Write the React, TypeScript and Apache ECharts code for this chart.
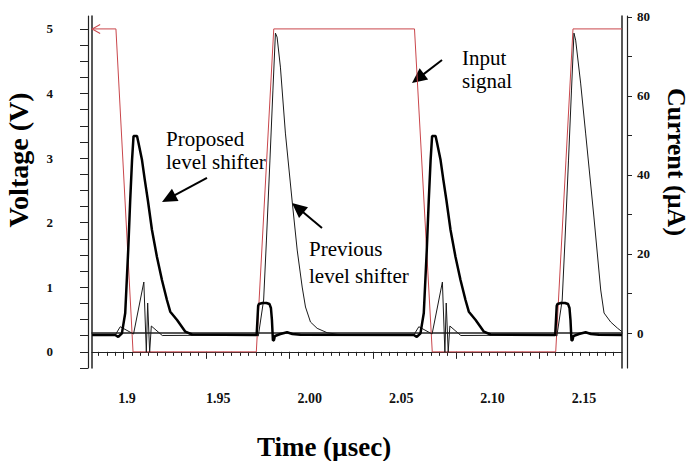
import React, { useEffect, useRef } from 'react';
import * as echarts from 'echarts';

// Input signal (V, left axis)
const inputTime = [1.8811, 1.8954, 1.9057, 1.9799, 1.9904, 2.0751, 2.0858, 2.1601, 2.1705, 2.2];
const inputVolt = [5, 5, 0, 0, 5, 5, 0, 0, 5, 5];

// Proposed level shifter current (µA, right axis) – thick line
const proposedTime = [
  1.8811, 1.895, 1.8968, 1.899, 1.901, 1.9028, 1.904, 1.9051, 1.906, 1.9081, 1.909, 1.9111,
  1.9128, 1.9146, 1.9171, 1.9201, 1.9231, 1.9261, 1.9281, 1.9322, 1.9372, 1.9412, 1.9801,
  1.981, 1.9814, 1.9836, 1.986, 1.9878, 1.9887, 1.9893, 1.9899, 1.9905, 1.9911, 1.9944,
  1.9984, 2.0016, 2.0064, 2.0747, 2.0765, 2.0787, 2.0807, 2.0825, 2.0837, 2.0848, 2.0857,
  2.0878, 2.0887, 2.0908, 2.0925, 2.0943, 2.0968, 2.0998, 2.1028, 2.1058, 2.1078, 2.1119,
  2.1169, 2.1209, 2.1598, 2.1607, 2.1611, 2.1633, 2.1657, 2.1675, 2.1684, 2.169, 2.1696,
  2.1702, 2.1708, 2.1741, 2.1781, 2.1813, 2.1861, 2.2,
];
const proposedCurrent = [
  -0.5, -0.5, -1.0, -0.08, 5.06, 20.99, 33.64, 43.75, 49.82, 49.82, 48.05, 43.75,
  38.69, 33.64, 26.05, 19.22, 13.4, 8.35, 5.39, 3.29, 0.33, -0.38, -0.5,
  6.83, 7.33, 7.59, 7.59, 7.33, 6.32, 3.29, -1.9, -1.8, -0.76, -0.25,
  0.18, -0.25, -0.45, -0.5, -1.0, -0.08, 5.06, 20.99, 33.64, 43.75, 49.82,
  49.82, 48.05, 43.75, 38.69, 33.64, 26.05, 19.22, 13.4, 8.35, 5.39, 3.29,
  0.33, -0.38, -0.5, 6.83, 7.33, 7.59, 7.59, 7.33, 6.32, 3.29, -1.9,
  -1.8, -0.76, -0.25, 0.18, -0.25, -0.45, -0.5,
];

// Previous level shifter current (µA, right axis) – thin line
const previousTime = [
  1.8811, 1.895, 1.898, 1.906, 1.9122, 1.9137, 1.9145, 1.9157, 1.9167, 1.9233, 1.9799,
  1.9811, 1.9843, 1.986, 1.9881, 1.9899, 1.9914, 1.9924, 1.9944, 1.9974, 2.0014, 2.0045,
  2.0075, 2.0095, 2.0125, 2.0165, 2.0225, 2.0286, 2.0366, 2.0747, 2.0777, 2.0857, 2.0919,
  2.0934, 2.0942, 2.0954, 2.0964, 2.103, 2.1596, 2.1608, 2.164, 2.1657, 2.1678, 2.1696,
  2.1711, 2.1721, 2.1751, 2.1781, 2.1831, 2.1872, 2.1892, 2.1932, 2.1972, 2.2,
];
const previousCurrent = [
  -0.5, -0.5, 1.59, -0.25, 12.9, -4.81, 7.59, -4.81, 1.77, -0.63, -0.5,
  -0.76, 8.35, 23.52, 43.75, 61.46, 75.87, 74.86, 67.27, 50.58, 33.64, 20.99,
  11.63, 6.58, 2.78, 1.19, 0.08, -0.33, -0.5, -0.5, 1.59, -0.25, 12.9,
  -4.81, 7.59, -4.81, 1.77, -0.63, -0.5, -0.76, 8.35, 23.52, 43.75, 61.46,
  75.87, 74.1, 63.23, 50.58, 29.34, 10.88, 5.06, 2.78, 1.26, 0.33,
];

// Tick labels
const xLabelValues = [1.9, 1.95, 2.0, 2.05, 2.1, 2.15];
const xLabelTexts = ['1.9', '1.95', '2.00', '2.05', '2.10', '2.15'];
const voltLabelValues = [0, 1, 2, 3, 4, 5];
const currentTickValues = [0, 10, 20, 30, 40, 50, 60, 70, 80];
const currentLabelValues = [0, 20, 40, 60, 80];

const RED = '#c9464b';
const AXIS = '#222';
const SERIF = '"Liberation Serif", "Times New Roman", serif';

function range(start: number, end: number, step: number, digits: number) {
  const out: number[] = [];
  const n = Math.round((end - start) / step);
  for (let i = 0; i <= n; i++) out.push(+(start + i * step).toFixed(digits));
  return out;
}

function arrow(tipX: number, tipY: number, tailX: number, tailY: number) {
  const dx = tipX - tailX;
  const dy = tipY - tailY;
  const len = Math.sqrt(dx * dx + dy * dy);
  const rot = Math.atan2(-dy, dx);
  const L = 15;
  const W = 7;
  return {
    type: 'group',
    x: tipX,
    y: tipY,
    rotation: rot,
    children: [
      { type: 'line', shape: { x1: -len, y1: 0, x2: -L + 2, y2: 0 }, style: { stroke: '#000', lineWidth: 2 } },
      { type: 'polygon', shape: { points: [[0, 0], [-L, -W], [-L, W]] }, style: { fill: '#000' } },
    ],
  };
}

export default function App() {
  const ref = useRef<HTMLDivElement>(null);
  useEffect(() => {
    document.body.style.margin = '0';
    const chart = echarts.init(ref.current!, null, { renderer: 'svg' });
    const xMin = 1.881;
    const xMax = 2.2;
    const tickLabel = { fontFamily: SERIF, fontWeight: 'bold', fontSize: 13, color: '#111' };

    const option: any = {
      animation: false,
      grid: { left: 92, right: 69, top: 16, bottom: 93, containLabel: false },
      xAxis: [
        {
          type: 'value', position: 'bottom', offset: 5, min: xMin, max: xMax,
          axisLine: { show: true, lineStyle: { color: AXIS, width: 1.2 } },
          axisTick: { show: true, length: 4, customValues: range(1.885, 2.195, 0.005, 3), lineStyle: { color: AXIS } },
          axisLabel: { show: false }, splitLine: { show: false },
        },
        {
          type: 'value', position: 'bottom', offset: 5, min: 1.8809, max: 2.1708,
          axisLine: { show: false }, axisTick: { show: false }, splitLine: { show: false },
          axisLabel: {
            show: true, margin: 18, customValues: xLabelValues, ...tickLabel, fontSize: 14,
            formatter: (v: number) => {
              const i = xLabelValues.findIndex((t) => Math.abs(t - v) < 1e-6);
              return i >= 0 ? xLabelTexts[i] : '';
            },
          },
        },
        {
          type: 'value', position: 'bottom', offset: 5, min: xMin, max: xMax,
          axisLine: { show: false },
          axisTick: { show: true, length: 7, customValues: xLabelValues, lineStyle: { color: AXIS } },
          axisLabel: { show: false }, splitLine: { show: false },
        },
        {
          type: 'value', position: 'bottom', offset: 0, min: xMin, max: xMax,
          axisLine: { show: true, lineStyle: { color: AXIS, width: 1.5 } },
          axisTick: { show: false }, axisLabel: { show: false }, splitLine: { show: false },
        },
      ],
      yAxis: [
        {
          type: 'value', position: 'left', offset: 4, min: -0.25, max: 5.2,
          axisLine: { show: true, lineStyle: { color: AXIS, width: 1.2 } },
          axisTick: { show: true, length: 8, customValues: range(-0.25, 5, 0.25, 2), lineStyle: { color: AXIS } },
          axisLabel: { show: true, margin: 35, customValues: voltLabelValues, ...tickLabel },
          splitLine: { show: false },
        },
        {
          type: 'value', position: 'right', offset: 5, min: -8.85, max: 80.2,
          axisLine: { show: true, lineStyle: { color: AXIS, width: 1.2 } },
          axisTick: { show: true, length: 5, customValues: currentTickValues, lineStyle: { color: AXIS } },
          axisLabel: { show: true, margin: 10, customValues: currentLabelValues, ...tickLabel },
          splitLine: { show: false },
        },
        {
          type: 'value', position: 'left', offset: 0, min: -0.25, max: 5.2,
          axisLine: { show: true, lineStyle: { color: AXIS, width: 1.5 } },
          axisTick: { show: false }, axisLabel: { show: false }, splitLine: { show: false },
        },
        {
          type: 'value', position: 'right', offset: 0, min: -8.85, max: 80.2,
          axisLine: { show: true, lineStyle: { color: AXIS, width: 1.5 } },
          axisTick: { show: false }, axisLabel: { show: false }, splitLine: { show: false },
        },
      ],
      series: [
        {
          name: 'Input signal', type: 'line', xAxisIndex: 0, yAxisIndex: 0,
          data: inputTime.map((t, i) => [t, inputVolt[i]]),
          showSymbol: false, lineStyle: { color: RED, width: 1 }, z: 2,
          markPoint: {
            silent: true,
            data: [{ coord: [inputTime[0], inputVolt[0]] }],
            symbol: 'path://M8,0 L0,4 L8,8',
            symbolSize: [8, 9],
            symbolOffset: [4, 0],
            itemStyle: { color: 'none', borderColor: RED, borderWidth: 1 },
            label: { show: false },
          },
        },
        {
          name: 'Previous level shifter', type: 'line', xAxisIndex: 0, yAxisIndex: 1,
          data: previousTime.map((t, i) => [t, previousCurrent[i]]),
          showSymbol: false, lineStyle: { color: '#1a1a1a', width: 1 }, z: 3,
        },
        {
          name: 'Proposed level shifter', type: 'line', xAxisIndex: 0, yAxisIndex: 1,
          data: proposedTime.map((t, i) => [t, proposedCurrent[i]]),
          showSymbol: false, lineStyle: { color: '#000', width: 2.5 }, z: 4,
        },
      ],
      graphic: [
        {
          type: 'text', x: 18, y: 160, rotation: Math.PI / 2,
          style: { text: 'Voltage (V)', font: `bold 28px ${SERIF}`, fill: '#000', align: 'center', verticalAlign: 'middle' },
        },
        {
          type: 'text', x: 676, y: 162, rotation: -Math.PI / 2,
          style: { text: 'Current (µA)', font: `bold 26px ${SERIF}`, fill: '#000', align: 'center', verticalAlign: 'middle' },
        },
        {
          type: 'text', x: 324, y: 447,
          style: { text: 'Time (µsec)', font: `bold 27px ${SERIF}`, fill: '#000', align: 'center', verticalAlign: 'middle' },
        },
        {
          type: 'text', x: 166, y: 127,
          style: { text: 'Proposed\nlevel shifter', font: `21px ${SERIF}`, lineHeight: 23, fill: '#000', align: 'left', verticalAlign: 'top' },
        },
        {
          type: 'text', x: 309, y: 235,
          style: { text: 'Previous\nlevel shifter', font: `21px ${SERIF}`, lineHeight: 27, fill: '#000', align: 'left', verticalAlign: 'top' },
        },
        {
          type: 'text', x: 462, y: 46,
          style: { text: 'Input\nsignal', font: `21px ${SERIF}`, lineHeight: 23, fill: '#000', align: 'left', verticalAlign: 'top' },
        },
        arrow(162, 202, 207, 178),
        arrow(292, 203, 322, 228),
        arrow(412, 83, 442, 60),
      ],
    };
    chart.setOption(option);
    return () => chart.dispose();
  }, []);
  return <div ref={ref} style={{ width: 691, height: 461 }} />;
}
